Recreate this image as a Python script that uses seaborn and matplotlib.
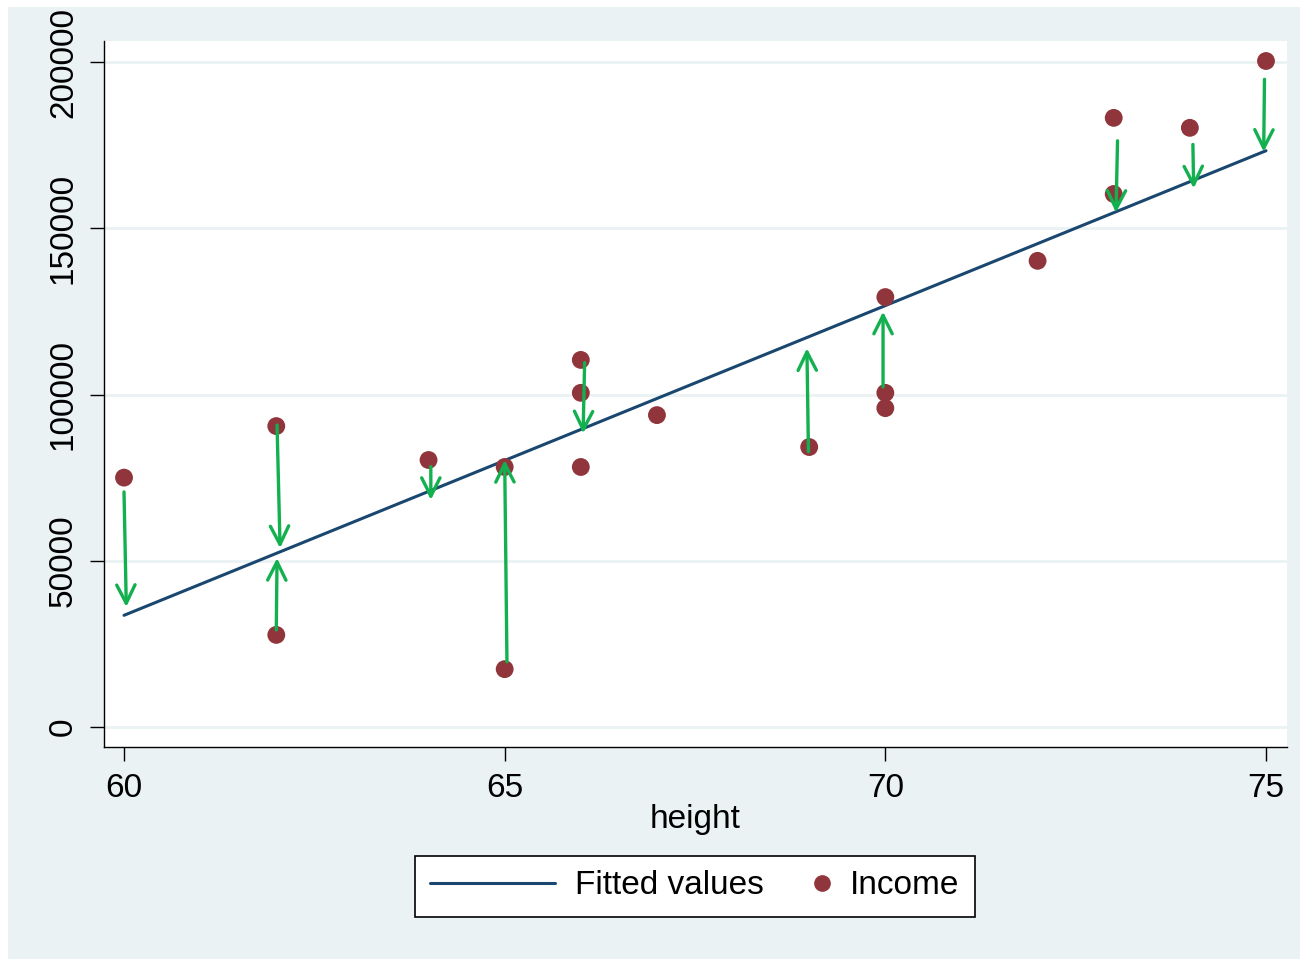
import numpy as np
import pandas as pd
import matplotlib
matplotlib.use('Agg')
import matplotlib.pyplot as plt
import seaborn as sns
from matplotlib.lines import Line2D
from matplotlib.patches import FancyArrowPatch, Rectangle
from matplotlib.legend_handler import HandlerLine2D

# income against height
height = [60, 62, 62, 64, 65, 65, 66, 66, 66, 67, 69, 70, 70, 70, 72, 73, 73, 74, 75]
income = [75000, 90500, 27700, 80300, 78200, 17400, 110400, 100500, 78200, 93800,
          84200, 129300, 100500, 95900, 140200, 183200, 160300, 180200, 200300]

# residual arrows (start -> tip), also
arrow_x0 = [60.00, 62.01, 62.00, 64.03, 65.03, 66.05, 68.99, 69.97, 73.05, 74.04, 74.98]
arrow_y0 = [70700, 90800, 29200, 78300, 19600, 109600, 82800, 102300, 176300, 175200, 194800]
arrow_x1 = [60.03, 62.05, 62.01, 64.03, 65.00, 66.03, 68.97, 69.97, 73.03, 74.05, 74.97]
arrow_y1 = [36100, 53800, 50800, 68300, 80300, 88300, 113900, 124900, 154700, 162000, 173000]

xticks = [60, 65, 70, 75]
yticks = [0, 50000, 100000, 150000, 200000]

BG = '#EAF2F3'
NAVY = '#1A476F'
MAROON = '#90353B'
GREEN = '#12B04E'
FS = 24

sns.set_style('white')
plt.rcParams['font.family'] = ['Liberation Sans', 'DejaVu Sans']
plt.rcParams['text.color'] = 'black'
plt.rcParams['xtick.color'] = 'black'
plt.rcParams['ytick.color'] = 'black'
plt.rcParams['axes.labelcolor'] = 'black'


class MarkerRight(HandlerLine2D):
    """Put the legend marker near the right end of its handle box."""
    def get_xdata(self, legend, xdescent, ydescent, width, height, fontsize):
        xm = -xdescent + width - 0.25 * fontsize
        return [xm - 1, xm + 1], [xm]


W, H = 1308, 959
fig = plt.figure(figsize=(W / 100, H / 100), dpi=100, facecolor='white')
fig.add_artist(Rectangle((8 / W, 0), (W - 16) / W, (H - 7) / H, transform=fig.transFigure,
                         facecolor=BG, edgecolor='none', zorder=-10))
ax = fig.add_axes([104 / W, 1 - 747 / H, (1287 - 104) / W, (747 - 41) / H])
ax.set_facecolor('white')

df = pd.DataFrame({'height': height, 'income': income})
sns.regplot(data=df, x='height', y='income', scatter=False, ci=None, color=NAVY,
            line_kws={'lw': 2.2, 'zorder': 2}, ax=ax)
sns.scatterplot(data=df, x='height', y='income', color=MAROON, s=165, edgecolor='none',
                zorder=3, ax=ax)

for x0, y0, x1, y1 in zip(arrow_x0, arrow_y0, arrow_x1, arrow_y1):
    ax.add_patch(FancyArrowPatch((x0, y0), (x1, y1), arrowstyle='->', mutation_scale=33,
                                 lw=2.4, color=GREEN, shrinkA=0, shrinkB=0, zorder=4))

ax.set_xlim(59.737, 75.276)
ax.set_ylim(-6015, 206316)
ax.set_xticks(xticks)
ax.set_yticks(yticks)
ax.set_yticklabels([str(v) for v in yticks], rotation=90, va='center')
ax.grid(axis='y', color=BG, lw=2)
ax.grid(axis='x', visible=False)
ax.set_axisbelow(True)

for side in ['top', 'right']:
    ax.spines[side].set_visible(False)
for side in ['left', 'bottom']:
    ax.spines[side].set_color('black')
    ax.spines[side].set_linewidth(1)

ax.tick_params(axis='both', direction='out', length=10, width=1, color='black',
               labelcolor='black', labelsize=FS, left=True, bottom=True)
ax.tick_params(axis='y', pad=8)
ax.tick_params(axis='x', pad=9)
ax.set_xlabel('height', fontsize=FS, labelpad=0)
ax.set_ylabel('')

h_line = Line2D([], [], color=NAVY, lw=2.2)
h_dot = Line2D([], [], color=MAROON, marker='o', ls='none', markersize=11)
leg = fig.legend([h_line, h_dot], ['Fitted values', 'Income'],
                 handler_map={h_dot: MarkerRight()}, loc='center',
                 bbox_to_anchor=(695 / W, 1 - 886 / H), ncol=2, fontsize=FS,
                 handlelength=3.75, handletextpad=0.6, columnspacing=-1.77,
                 borderpad=0.45, frameon=True, fancybox=False, edgecolor='black',
                 framealpha=1)
leg.get_frame().set_linewidth(1.2)

fig.savefig('out.png', dpi=100, facecolor=fig.get_facecolor())
